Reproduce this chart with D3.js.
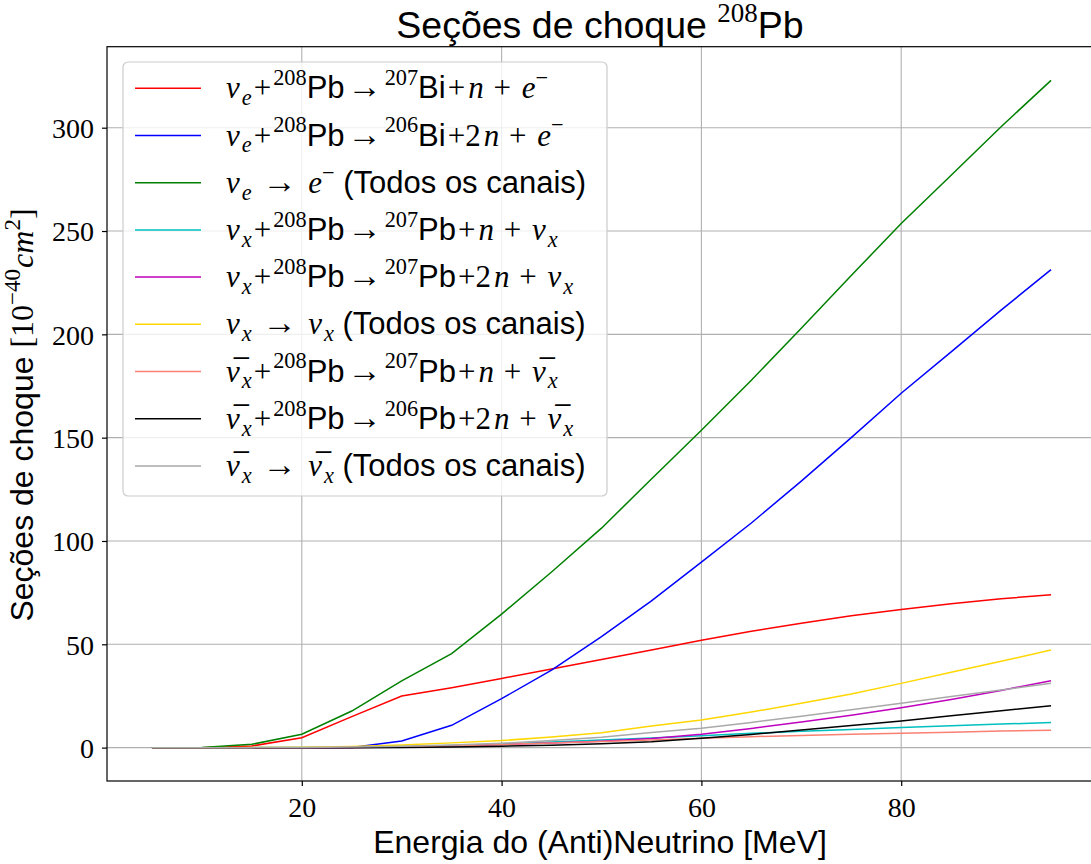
<!DOCTYPE html>
<html><head><meta charset="utf-8">
<script src="https://cdn.jsdelivr.net/npm/d3@7"></script>
<style>body{margin:0;background:#fff}</style>
</head><body>
<svg id="chart" width="1091" height="864"></svg>
<script>
const energies = [5,10,15,20,25,30,35,40,45,50,55,60,65,70,75,80,85,90,95];
const nueBi207 = [0,0,0.8,4.8,15,25,29,33.5,38,42.7,47.2,52,56.3,60.2,63.8,66.9,69.6,72,74];
const nueBi206 = [0,0,0,0,0.1,3.2,10.8,23.7,37.5,53.7,71,89.8,108.7,129,150,171.5,191.5,211.7,231.3];
const nueTotal = [0,0.1,1.6,6.5,17.7,32.3,45.5,64.6,85,106.2,130,153.6,177.8,203,228.5,253.6,277,300.5,322.9];
const nuxPb207n = [0,0,0,0.05,0.2,0.5,1,1.8,2.7,3.7,4.6,5.8,6.9,7.9,8.8,9.7,10.6,11.4,12.1];
const nuxPb2n = [0,0,0,0,0.1,0.3,0.8,1.5,2.2,3.1,4.4,6.5,9.3,12.4,15.7,19.3,23.3,27.7,32.4];
const nuxTotal = [0,0,0.05,0.2,0.6,1.3,2.3,3.4,5.2,7.2,10.5,13.4,17.2,21.5,26,31.1,36.5,41.8,47.2];
const anuxPb207n = [0,0,0,0,0.1,0.4,0.8,1.5,2.2,3,3.7,4.5,5.3,5.9,6.5,7,7.5,8,8.4];
const anuxPb2n = [0,0,0,0,0,0.1,0.3,0.7,1.2,1.9,2.9,4.5,6.4,8.5,10.7,12.9,15.4,17.8,20.3];
const anuxTotal = [0,0,0,0.1,0.3,0.7,1.3,2.1,3.4,5,7.3,9.4,12.2,15.2,18.3,21.5,24.7,27.9,31.1];
const xTicks = [20,40,60,80];
const yTicks = [0,50,100,150,200,250,300];

// label segments: [text, kind] kind: mi (math italic), rm (math roman), sf (sans), sup, sub, ar (arrow)
const labels = [
  [["ν","mi"],["e","sub"],["+","rm"],["208","sup"],["Pb","sf"],["→","ar"],["207","sup"],["Bi","sf"],["+","rm"],["n","mi"],[" + ","rm"],["e","mi"],["−","sup"]],
  [["ν","mi"],["e","sub"],["+","rm"],["208","sup"],["Pb","sf"],["→","ar"],["206","sup"],["Bi","sf"],["+2","rm"],["n","mi"],[" + ","rm"],["e","mi"],["−","sup"]],
  [["ν","mi"],["e","sub"],[" ","rm"],["→","ar"],[" ","rm"],["e","mi"],["−","sup"],[" (Todos os canais)","sf"]],
  [["ν","mi"],["x","sub"],["+","rm"],["208","sup"],["Pb","sf"],["→","ar"],["207","sup"],["Pb","sf"],["+","rm"],["n","mi"],[" + ","rm"],["ν","mi"],["x","sub"]],
  [["ν","mi"],["x","sub"],["+","rm"],["208","sup"],["Pb","sf"],["→","ar"],["207","sup"],["Pb","sf"],["+2","rm"],["n","mi"],[" + ","rm"],["ν","mi"],["x","sub"]],
  [["ν","mi"],["x","sub"],[" ","rm"],["→","ar"],[" ","rm"],["ν","mi"],["x","sub"],[" (Todos os canais)","sf"]],
  [["ν̅","mi"],["x","sub"],["+","rm"],["208","sup"],["Pb","sf"],["→","ar"],["207","sup"],["Pb","sf"],["+","rm"],["n","mi"],[" + ","rm"],["ν̅","mi"],["x","sub"]],
  [["ν̅","mi"],["x","sub"],["+","rm"],["208","sup"],["Pb","sf"],["→","ar"],["206","sup"],["Pb","sf"],["+2","rm"],["n","mi"],[" + ","rm"],["ν̅","mi"],["x","sub"]],
  [["ν̅","mi"],["x","sub"],[" ","rm"],["→","ar"],[" ","rm"],["ν̅","mi"],["x","sub"],[" (Todos os canais)","sf"]]
];
const seriesValues = [nueBi207,nueBi206,nueTotal,nuxPb207n,nuxPb2n,nuxTotal,anuxPb207n,anuxPb2n,anuxTotal];
const colors = ["#ff0000","#0000ff","#008000","#00bfbf","#bf00bf","#ffd700","#fa8072","#000000","#a9a9a9"];

const SANS = "'Liberation Sans', Arial, sans-serif";
const SERIF = "'Liberation Serif', 'DejaVu Serif', serif";
const ARROW = "'Liberation Sans', sans-serif";

const svg = d3.select("#chart");
const L = 107, R = 1096, T = 46.7, B = 781;
const x = d3.scaleLinear().domain([0.5, 99.5]).range([L, R]);
const y = d3.scaleLinear().domain([-16.15, 339.2]).range([B, T]);

svg.append("rect").attr("width",1091).attr("height",864).attr("fill","#fff");

// grid
const grid = svg.append("g");
grid.selectAll(".gx").data(xTicks).join("line")
  .attr("x1",d=>x(d)).attr("x2",d=>x(d)).attr("y1",T).attr("y2",B)
  .attr("stroke","#b0b0b0").attr("stroke-width",1.1);
grid.selectAll(".gy").data(yTicks).join("line")
  .attr("y1",d=>y(d)).attr("y2",d=>y(d)).attr("x1",L).attr("x2",R)
  .attr("stroke","#b0b0b0").attr("stroke-width",1.1);

// lines
const line = d3.line().x((d,i)=>x(energies[i])).y(d=>y(d));
seriesValues.forEach((vals,k)=>{
  svg.append("path").datum(vals).attr("d",line).attr("fill","none")
    .attr("stroke",colors[k]).attr("stroke-width",1.5);
});

// axes
const xAxis = svg.append("g").attr("transform",`translate(0,${B})`)
  .call(d3.axisBottom(x).tickValues(xTicks).tickSize(5).tickPadding(10).tickFormat(d3.format("d")));
const yAxis = svg.append("g").attr("transform",`translate(${L},0)`)
  .call(d3.axisLeft(y).tickValues(yTicks).tickSize(5).tickPadding(8).tickFormat(d3.format("d")));
[xAxis,yAxis].forEach(a=>{
  a.select(".domain").remove();
  a.selectAll("line").attr("stroke","#000").attr("stroke-width",1.2);
  a.selectAll("text").attr("font-family",SERIF).attr("font-size",28).attr("fill","#000");
});
xAxis.selectAll("text").attr("dy","0.75em");
yAxis.selectAll("text").attr("dy","0.35em");
// spines
svg.append("rect").attr("x",L).attr("y",T).attr("width",R-L).attr("height",B-T)
  .attr("fill","none").attr("stroke","#000").attr("stroke-width",1.2);

// rich text helper
function rich(g, segs, fs){
  const t = g.append("text").attr("font-size",fs).attr("fill","#000");
  let off = 0, pad = 0;
  segs.forEach(([s,k])=>{
    let target = 0, size = fs, fam = SERIF, style = "normal", dx = pad, after = 0;
    if(k==="sf"){fam = SANS;}
    if(k==="mi"){style="italic"; dx += 1;}
    if(k==="rm" && s.includes("+")){dx += 2; after = 2;}
    if(k==="ar"){fam = ARROW; size = fs*1.1; dx += 3; after = 3;}
    if(k==="sup"){target = -0.42*fs; size = 0.72*fs;}
    if(k==="sub"){target = 0.22*fs; size = 0.72*fs; style="italic"; dx += 2;}
    t.append("tspan").attr("font-family",fam).attr("font-style",style)
      .attr("font-size",size).attr("dx",dx).attr("dy",target-off).text(s);
    off = target; pad = after;
  });
  return t;
}

// legend
const lg = svg.append("g");
const lx = 123, ly = 62, lw = 484, lh = 434;
lg.append("rect").attr("x",lx).attr("y",ly).attr("width",lw).attr("height",lh).attr("rx",5)
  .attr("fill","#fff").attr("fill-opacity",0.8).attr("stroke","#cccccc").attr("stroke-width",1.2);
labels.forEach((segs,i)=>{
  const cy = 88.3 + i*47.2;
  lg.append("line").attr("x1",135).attr("x2",201).attr("y1",cy).attr("y2",cy)
    .attr("stroke",colors[i]).attr("stroke-width",1.5);
  rich(lg.append("g").attr("transform",`translate(225,${cy+10})`), segs, 31);
});

// title
const tg = svg.append("g").attr("transform","translate(600,38)");
rich(tg, [["Seções de choque ","sf"],["208","sup"],["Pb","sf"]], 37.5).attr("text-anchor","middle");

// x label
svg.append("text").attr("x",600).attr("y",853).attr("text-anchor","middle")
  .attr("font-family",SANS).attr("font-size",32).text("Energia do (Anti)Neutrino [MeV]");

// y label
const yl = svg.append("g").attr("transform","translate(33,415) rotate(-90)");
rich(yl, [["Seções de choque ","sf"],["[10","rm"],["−40","sup"],["cm","mi"],["2","sup"],["]","rm"]], 32).attr("text-anchor","middle");
</script>
</body></html>
